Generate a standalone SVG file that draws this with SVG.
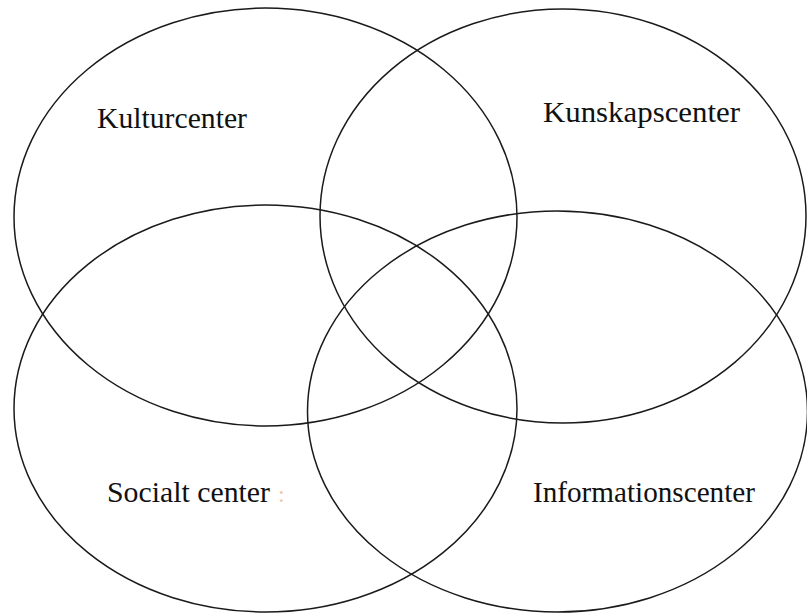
<svg xmlns="http://www.w3.org/2000/svg" width="807" height="614" viewBox="0 0 807 614">
  <style>
    .ring { fill: none; stroke: #1a1a1a; stroke-width: 1.5; }
    .label { font-family: "Liberation Serif", "Times New Roman", serif; font-size: 30px; fill: #111; }
    .mark { font-family: "Liberation Serif", "Times New Roman", serif; font-size: 24px; fill: #f0c898; }
  </style>
  <rect width="807" height="614" fill="#fff"/>
  <g id="kulturcenter">
    <ellipse class="ring" cx="265.5" cy="217" rx="251.5" ry="209"/>
    <text class="label" x="97" y="128" textLength="150" lengthAdjust="spacingAndGlyphs">Kulturcenter</text>
  </g>
  <g id="kunskapscenter">
    <ellipse class="ring" cx="563" cy="216" rx="243" ry="207"/>
    <text class="label" x="543" y="122" textLength="197" lengthAdjust="spacingAndGlyphs">Kunskapscenter</text>
  </g>
  <g id="socialt-center">
    <ellipse class="ring" cx="265.5" cy="408.5" rx="251.5" ry="203.5"/>
    <text class="label" x="107" y="502" textLength="163" lengthAdjust="spacingAndGlyphs">Socialt center</text>
    <text class="mark" x="278" y="502">:</text>
  </g>
  <g id="informationscenter">
    <ellipse class="ring" cx="557.5" cy="411.5" rx="250" ry="200.5"/>
    <text class="label" x="533" y="502" textLength="222" lengthAdjust="spacingAndGlyphs">Informationscenter</text>
  </g>
  <g id="connectors"/>
</svg>
